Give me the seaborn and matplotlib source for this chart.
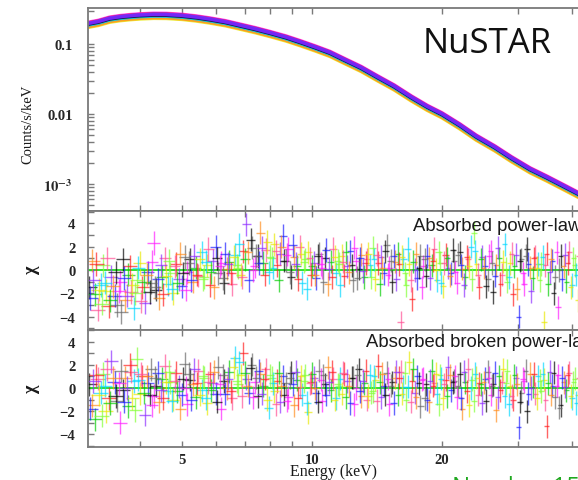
import numpy as np
import pandas as pd
import matplotlib
matplotlib.use("Agg")
import matplotlib.pyplot as plt
import seaborn as sns
from matplotlib.ticker import FixedLocator, FixedFormatter, NullFormatter, LogLocator, MultipleLocator

# ---------------- data ----------------
# spectrum (top panel): energy grid (keV) and count-rate shape (counts/s/keV)
E_SPEC = [3.0, 3.2, 3.4, 3.6, 3.8, 4.0, 4.3, 4.6, 5.0, 5.4, 5.8, 6.3, 6.8, 7.4, 8.0,
          8.7, 9.4, 10.2, 11.0, 12.0, 13.0, 14.2, 15.5, 17.0, 18.5, 20.0, 22.0, 24.0,
          26.5, 29.0, 32.0, 35.0, 38.5, 42.0, 46.0]
MODEL_COUNTS = [0.190, 0.205, 0.228, 0.240, 0.248, 0.254, 0.259, 0.258, 0.250, 0.237,
                0.222, 0.203, 0.182, 0.161, 0.142, 0.123, 0.105, 0.088, 0.074, 0.057,
                0.045, 0.033, 0.0245, 0.0170, 0.0125, 0.0098, 0.0068, 0.0047, 0.0033,
                0.0023, 0.00160, 0.00122, 0.00090, 0.00068, 0.00050]
SERIES = ["yellow", "orange", "gray", "green", "cyan", "magenta", "red", "pink",
          "black", "blue", "purple"]
SERIES_NORM = [0.90, 0.92, 0.98, 1.00, 0.97, 1.06, 1.04, 1.01, 1.00, 1.02, 1.03]

# residuals (chi) for the two fits; two interleaved groups of energy bins (keV)
E_BIN_A = [
    3.05, 3.10, 3.14, 3.19, 3.24, 3.28, 3.33, 3.38, 3.43, 3.49,
    3.54, 3.59, 3.65, 3.70, 3.76, 3.81, 3.87, 3.93, 3.99, 4.05,
    4.11, 4.17, 4.24, 4.30, 4.36, 4.43, 4.50, 4.56, 4.63, 4.70,
    4.77, 4.85, 4.92, 4.99, 5.07, 5.14, 5.22, 5.30, 5.38, 5.46,
    5.55, 5.63, 5.72, 5.80, 5.89, 5.98, 6.07, 6.16, 6.25, 6.35,
    6.44, 6.54, 6.64, 6.74, 6.84, 6.94, 7.05, 7.15, 7.26, 7.37,
    7.48, 7.59, 7.71, 7.82, 7.94, 8.06, 8.18, 8.31, 8.43, 8.56,
    8.69, 8.82, 8.95, 9.09, 9.22, 9.36, 9.50, 9.65, 9.79, 9.94,
    10.09, 10.24, 10.40, 10.55, 10.71, 10.87, 11.04, 11.20, 11.37, 11.54,
    11.72, 11.89, 12.07, 12.26, 12.44, 12.63, 12.82, 13.01, 13.21, 13.41,
    13.61, 13.81, 14.02, 14.23, 14.45, 14.67, 14.89, 15.11, 15.34, 15.57,
    15.81, 16.04, 16.29, 16.53, 16.78, 17.04, 17.29, 17.55, 17.82, 18.09,
    18.36, 18.64, 18.92, 19.20, 19.49, 19.79, 20.09, 20.39, 20.70, 21.01,
    21.33, 21.65, 21.97, 22.30, 22.64, 22.98, 23.33, 23.68, 24.04, 24.40,
    24.77, 25.14, 25.52, 25.91, 26.30, 26.69, 27.10, 27.51, 27.92, 28.34,
    28.77, 29.20, 29.64, 30.09, 30.54, 31.00, 31.47, 31.95, 32.43, 32.92,
    33.41, 33.92, 34.43, 34.95, 35.48, 36.01, 36.56, 37.11, 37.67, 38.24,
    38.81, 39.40, 39.99, 40.60, 41.21, 41.83, 42.46, 43.10, 43.75, 44.40,
]
E_BIN_B = [
    3.07, 3.12, 3.17, 3.21, 3.26, 3.31, 3.36, 3.41, 3.46, 3.51,
    3.57, 3.62, 3.68, 3.73, 3.79, 3.84, 3.90, 3.96, 4.02, 4.08,
    4.14, 4.21, 4.27, 4.33, 4.40, 4.47, 4.53, 4.60, 4.67, 4.74,
    4.81, 4.88, 4.96, 5.03, 5.11, 5.18, 5.26, 5.34, 5.42, 5.50,
    5.59, 5.67, 5.76, 5.85, 5.94, 6.03, 6.12, 6.21, 6.30, 6.40,
    6.49, 6.59, 6.69, 6.79, 6.89, 7.00, 7.10, 7.21, 7.32, 7.43,
    7.54, 7.65, 7.77, 7.88, 8.00, 8.12, 8.25, 8.37, 8.50, 8.63,
    8.76, 8.89, 9.02, 9.16, 9.29, 9.43, 9.58, 9.72, 9.87, 10.02,
    10.17, 10.32, 10.48, 10.63, 10.79, 10.96, 11.12, 11.29, 11.46, 11.63,
    11.81, 11.98, 12.17, 12.35, 12.54, 12.73, 12.92, 13.11, 13.31, 13.51,
    13.71, 13.92, 14.13, 14.34, 14.56, 14.78, 15.00, 15.23, 15.46, 15.69,
    15.93, 16.17, 16.41, 16.66, 16.91, 17.17, 17.42, 17.69, 17.96, 18.23,
    18.50, 18.78, 19.06, 19.35, 19.64, 19.94, 20.24, 20.55, 20.86, 21.17,
    21.49, 21.81, 22.14, 22.47, 22.81, 23.16, 23.51, 23.86, 24.22, 24.59,
    24.96, 25.33, 25.72, 26.11, 26.50, 26.90, 27.31, 27.72, 28.13, 28.56,
    28.99, 29.42, 29.87, 30.32, 30.77, 31.24, 31.71, 32.19, 32.68, 33.17,
    33.67, 34.18, 34.69, 35.22, 35.75, 36.29, 36.84, 37.39, 37.96, 38.53,
    39.11, 39.70, 40.30, 40.91, 41.52, 42.15, 42.78, 43.43, 44.08, 44.75,
]
# absorbed power-law residuals
CHI_PL_A = [
    -1.5, 0.8, -2.1, -3.4, -1.3, 0.4, -1.8, -3.1, -0.6, -2.2,
    -3.0, -1.0, 0.9, -2.6, -0.4, -1.9, -3.3, -0.9, 0.6, -1.5,
    -2.8, -0.2, -1.1, 2.3, -1.7, -2.4, -0.6, 1.0, -1.2, -0.3,
    -2.0, 0.5, -0.8, -1.4, 1.1, -0.2, 0.9, -1.0, 0.2, -0.5,
    1.5, -0.6, 0.4, -1.3, 0.8, 2.0, -0.3, 0.6, -1.1, 0.1,
    0.7, -1.2, 1.3, 0.2, -0.4, 1.6, 3.9, -0.9, 1.9, 0.3,
    1.2, 3.2, 0.6, 1.7, -0.2, 1.0, 2.2, 0.4, 1.4, 2.9,
    0.8, 1.8, -0.6, 1.1, 0.3, 2.0, -1.1, 0.9, 1.5, -0.4,
    0.6, -0.7, 1.4, 0.2, 1.0, -1.2, 0.7, 1.8, -0.3, 0.5,
    1.2, -0.5, 0.3, 1.6, -0.9, 0.8, 0.1, 1.3, -0.6, 0.9,
    0.4, 1.9, -0.8, 0.6, 1.1, -0.3, 2.1, 0.2, -1.0, 0.7,
    1.4, -4.5, 0.9, -1.3, 0.5, -2.5, 0.0, -0.7, 1.2, 0.3,
    -0.5, 1.0, 0.4, 1.8, -0.9, 0.6, -1.4, 1.3, 0.2, -0.3,
    0.8, -1.1, 1.5, 0.1, -0.6, 0.9, 2.0, 3.2, 0.5, -1.5,
    1.1, 0.3, -0.8, 1.6, -1.9, 0.4, 1.0, -0.4, 2.2, -1.0,
    0.6, -2.1, 1.3, -4.0, 0.9, -1.2, 1.8, 0.2, -0.7, 1.1,
    0.5, 0.5, -4.5, 1.4, -0.2, 0.8, -0.6, -3.2, 1.2, 0.3,
    -1.0, 1.5, -1.3, 0.4, -2.6, 1.0, -0.5, 1.7, -1.8, 0.6,
]
CHI_PL_B = [
    -2.4, -0.9, 0.5, -1.7, -2.9, -1.1, 1.0, -2.6, -1.4, -0.2,
    -1.8, -3.6, -0.7, -2.2, 0.3, -1.3, -2.0, 0.2, -2.7, -1.0,
    -0.4, -1.9, 0.7, -1.5, -0.8, 0.4, -2.1, -0.5, 0.8, -1.6,
    0.3, -1.1, 1.4, -0.3, -1.7, 0.6, -0.9, 1.2, -0.4, 0.9,
    -0.8, 0.7, 1.8, -0.2, -1.5, 1.0, 0.3, -0.7, 1.4, 0.5,
    -0.3, 1.1, 0.4, 2.2, -0.6, 0.9, 1.5, 2.6, 0.0, 1.2,
    0.6, 1.9, -0.4, 2.4, 1.1, 0.2, 1.6, -0.9, 2.0, 0.8,
    1.3, -0.2, 2.1, 0.5, -0.8, 1.4, 0.7, -1.6, 1.0, 0.3,
    -0.4, 1.2, 0.5, -1.0, 1.7, 0.1, -0.6, 1.1, 0.8, -1.3,
    0.7, 1.5, -0.2, 0.4, 1.9, -0.7, 1.0, -0.1, 0.6, 1.4,
    -0.6, 0.9, 1.3, -1.2, 0.2, 1.6, -0.4, 0.8, 1.2, -0.8,
    0.5, 1.1, -0.3, 1.8, -0.9, 0.7, 1.4, 0.2, -1.5, 0.9,
    1.2, -0.7, 0.8, 0.0, 1.5, -1.1, 0.6, 1.0, -0.5, 1.7,
    -0.2, 1.3, 0.4, -1.3, 1.1, 0.3, -0.8, 1.6, -0.4, 0.9,
    0.2, -1.4, 1.2, 0.6, -0.5, 1.9, -1.2, 0.7, 0.1, -0.6,
    1.4, 0.3, -1.6, 0.8, -0.3, 1.2, 0.5, -1.8, 1.0, 0.2,
    -0.9, 1.1, 0.4, -1.2, 0.9, -2.0, 1.5, 0.0, -0.8, 1.3,
    0.6, -1.5, 1.0, -0.4, 1.2, -2.2, 0.3, 0.9, -1.1, 0.5,
]
# absorbed broken power-law residuals
CHI_BPL_A = [
    0.3, -1.5, -2.7, 0.8, -0.4, 1.2, -2.0, -0.9, 2.3, 0.5,
    -1.1, -3.0, -0.2, 0.9, -1.6, 1.4, 0.6, 2.5, -0.5, 1.0,
    -2.3, 0.4, 1.6, -0.7, 0.2, -1.2, 0.8, 1.9, -0.3, 0.5,
    -1.0, 1.3, 0.1, -0.6, 2.1, -1.4, 0.7, 0.3, -0.8, 1.5,
    -0.2, 0.9, -1.3, 1.2, 0.4, -0.5, 1.8, -1.8, 0.6, 0.0,
    1.4, -0.9, 2.6, 0.3, 1.1, 3.0, 0.8, -0.4, 2.0, 0.5,
    -0.7, 1.2, 0.2, 1.6, -1.7, 0.9, -0.3, 0.6, -1.2, 1.0,
    0.4, -0.8, 1.3, -1.5, 0.7, 0.1, -0.6, 1.1, -2.1, 0.5,
    0.9, -0.4, 1.5, -1.1, 0.3, 1.8, -0.2, 0.8, -0.9, 0.2,
    -0.5, 1.2, 0.6, -1.3, 0.9, 0.0, 1.6, -0.7, 0.4, -1.0,
    1.1, -0.3, 0.7, 1.9, -0.8, 0.2, 1.3, -1.4, 0.5, 0.9,
    -0.6, 1.4, 0.1, -1.0, 2.2, 0.6, -0.4, 1.0, -1.6, 0.8,
    0.3, -1.2, 1.5, 0.4, -0.5, 1.1, -0.9, 0.7, 1.8, -0.2,
    0.6, -0.8, 1.2, -1.8, 0.5, 1.6, 0.0, -1.1, 0.9, 0.4,
    -1.3, 0.8, 1.4, -0.6, 0.3, -1.9, 1.0, 0.5, -0.7, 1.5,
    0.2, -1.0, 0.9, -3.4, -0.4, 0.6, -2.0, 1.2, 0.1, -0.5,
    1.0, -0.3, 0.7, -3.3, 1.4, 0.2, -0.8, 1.1, -1.5, 0.5,
    -0.2, 1.3, -0.9, 0.8, -0.6, 0.4, 1.2, -0.6, 0.9, -1.1,
]
CHI_BPL_B = [
    -1.8, 0.6, 1.1, -0.6, -2.4, 0.2, 1.6, -1.3, 0.9, -0.7,
    0.4, 1.5, -1.2, 0.0, 2.0, -0.9, -1.9, 0.7, 1.2, -0.4,
    1.0, -0.6, -1.5, 0.9, 1.3, -0.2, -0.9, 0.5, 1.4, -1.1,
    0.6, -0.3, -1.8, 0.8, 0.0, 1.2, -1.0, 1.6, 0.4, -0.6,
    1.0, -0.9, 0.5, -0.2, 1.4, -1.2, 0.3, 1.1, -0.5, 0.8,
    -0.3, 1.8, 0.6, 2.2, -0.7, 1.3, 0.2, 1.7, -0.8, 0.9,
    1.5, -0.5, 0.8, -1.0, 1.1, 0.4, -1.4, 1.3, 0.2, -0.6,
    -1.1, 0.9, 0.3, 1.4, -0.9, 1.0, 0.6, -1.3, 0.4, 1.2,
    0.0, -1.2, 0.7, 1.1, -0.6, 0.5, 1.4, -1.0, 0.3, 0.8,
    1.3, -0.8, 0.2, 0.9, -1.4, 1.1, -0.3, 0.6, 1.5, -0.7,
    -0.4, 1.0, -1.1, 0.5, 1.2, -0.6, 0.8, 0.2, -1.3, 1.4,
    0.9, -0.5, 1.3, 0.1, -1.2, 1.6, -0.8, 0.4, 0.7, -0.9,
    -1.0, 0.6, 0.2, 1.2, -1.4, 0.8, 0.3, -0.7, 1.1, 0.5,
    1.0, 0.2, -0.9, 1.4, -0.3, -1.5, 0.7, 1.2, -0.6, 0.3,
    0.5, -1.1, 0.9, 0.2, 1.3, -0.8, -0.2, 1.6, 0.4, -1.4,
    -0.7, 1.1, 0.3, -1.2, 0.8, 1.5, -0.5, 0.0, 1.2, -0.9,
    0.6, 1.2, -1.0, 0.4, -0.6, 1.3, 0.2, -1.7, 0.9, 0.1,
    1.1, -0.7, 0.5, -1.3, 0.9, 0.2, -0.9, 1.4, -0.4, 0.7,
]
assert len(E_BIN_A) == len(CHI_PL_A) == len(CHI_BPL_A)
assert len(E_BIN_B) == len(CHI_PL_B) == len(CHI_BPL_B)

X_MAJOR = [5, 10, 20, 50]
X_MAJOR_LABELS = ["5", "10", "20", ""]
X_MINOR = [3, 4, 6, 7, 8, 9, 30, 40, 60, 70]
Y_TOP_TICKS = [0.1, 0.01, 0.001]
Y_TOP_LABELS = ["0.1", "0.01", "$\\mathbf{10^{-3}}$"]
CHI_TICKS = [-4, -2, 0, 2, 4]
CHI_LABELS = ["\u22124", "\u22122", "0", "2", "4"]

# ---------------- style ----------------
COLORS = {"black": "#000000", "red": "#ff1a1a", "green": "#00cc00", "blue": "#1a1aff",
          "cyan": "#00d8ff", "magenta": "#ff1aff", "yellow": "#e8e800", "orange": "#ff8c1a",
          "purple": "#8c2bff", "pink": "#ff4d94", "gray": "#666666", "lime": "#80ff33"}
RES_ORDER = ["black", "red", "green", "blue", "cyan", "magenta", "yellow", "orange",
             "purple", "pink", "gray", "lime"]

sns.set_theme(style="ticks")
plt.rcParams["font.family"] = ["Liberation Serif", "DejaVu Serif"]
plt.rcParams["mathtext.fontset"] = "stix"

W, H = 578, 481
fig = plt.figure(figsize=(W / 100, H / 100), dpi=100)

def fx(px):
    return px / W

def fy(py):
    return 1 - py / H

left = fx(88)
xlo, xhi = 3.03, 79.0
width = fx(431.9 * np.log10(xhi / xlo))

ax0 = fig.add_axes([left, fy(212), width, (212 - 9) / H])
ax1 = fig.add_axes([left, fy(330.5), width, (330.5 - 212) / H])
ax2 = fig.add_axes([left, fy(448), width, (448 - 330.5) / H])

SPINE = "#7a7a7a"
for ax in (ax0, ax1, ax2):
    ax.set_xscale("log")
    ax.set_xlim(xlo, xhi)
    for s in ax.spines.values():
        s.set_color(SPINE)
        s.set_linewidth(1.3)
    ax.xaxis.set_major_locator(FixedLocator(X_MAJOR))
    ax.xaxis.set_minor_locator(FixedLocator(X_MINOR))
    ax.xaxis.set_minor_formatter(NullFormatter())
    ax.tick_params(axis="both", which="both", direction="in", top=True, right=True,
                   color=SPINE, length=4, width=1.0, labelsize=10.5, labelcolor="#262626")

# top spectrum
rows = []
for name, norm in zip(SERIES, SERIES_NORM):
    for e, c in zip(E_SPEC, MODEL_COUNTS):
        rows.append({"E": e, "counts": c * norm, "series": name})
spec = pd.DataFrame(rows)
sns.lineplot(data=spec, x="E", y="counts", hue="series", hue_order=SERIES,
             palette={k: COLORS[k] for k in SERIES}, lw=2.6, alpha=0.8,
             estimator=None, legend=False, ax=ax0)
ax0.set_yscale("log")
ax0.set_ylim(4.1e-4, 0.327)
ax0.set_xlim(xlo, xhi)
ax0.yaxis.set_major_locator(FixedLocator(Y_TOP_TICKS))
ax0.yaxis.set_major_formatter(FixedFormatter(Y_TOP_LABELS))
ax0.yaxis.set_minor_locator(LogLocator(base=10, subs=np.arange(2, 10)))
ax0.yaxis.set_minor_formatter(NullFormatter())
ax0.tick_params(axis="x", labelbottom=False)
ax0.tick_params(axis="y", pad=11)
ax0.set_xlabel("")
ax0.set_ylabel("")

# residual panels
groups = [(np.array(E_BIN_A), CHI_PL_A, CHI_BPL_A, 7, 0),
          (np.array(E_BIN_B), CHI_PL_B, CHI_BPL_B, 5, 3)]
for ax in (ax1, ax2):
    ax.axhline(0, color="#22dd22", lw=1.3, zorder=1)
for E, chi_pl, chi_bpl, step, off in groups:
    xerr = 0.09 + 0.012 * E
    cidx = (np.arange(len(E)) * step + off) % len(RES_ORDER)
    for ax, chi in ((ax1, np.array(chi_pl)), (ax2, np.array(chi_bpl))):
        for k, cname in enumerate(RES_ORDER):
            m = cidx == k
            ax.errorbar(E[m], chi[m], yerr=1.0, xerr=xerr[m], fmt="none",
                        ecolor=COLORS[cname], elinewidth=1.0, alpha=0.68,
                        capsize=0, zorder=2)
for ax in (ax1, ax2):
    ax.set_ylim(-5.1, 5.05)
    ax.yaxis.set_major_locator(FixedLocator(CHI_TICKS))
    ax.yaxis.set_major_formatter(FixedFormatter(CHI_LABELS))
    ax.yaxis.set_minor_locator(MultipleLocator(1))
    ax.tick_params(axis="y", pad=9)
ax1.tick_params(axis="x", labelbottom=False)
ax2.xaxis.set_major_formatter(FixedFormatter(X_MAJOR_LABELS))
ax2.tick_params(axis="x", pad=4)

for ax in (ax0, ax1, ax2):
    for lab in ax.get_xticklabels() + ax.get_yticklabels():
        lab.set_fontweight("bold")

# labels
fig.text(fx(28), fy(124), "Counts/s/keV", rotation=90, ha="center", va="center",
         fontsize=10.5, color="#1a1a1a")
fig.text(fx(31), fy(270), "\u03c7", rotation=90, ha="center", va="center",
         fontsize=13, color="#1a1a1a", weight="bold")
fig.text(fx(31), fy(389), "\u03c7", rotation=90, ha="center", va="center",
         fontsize=13, color="#1a1a1a", weight="bold")
fig.text(fx(334), fy(472), "Energy (keV)", ha="center", va="center",
         fontsize=11.5, color="#1a1a1a")

fig.text(fx(487), fy(53), "NuSTAR", ha="center", va="baseline",
         fontsize=25, family="Open Sans", color="#111111")
fig.text(fx(413), fy(230.7), "Absorbed power-law", ha="left", va="baseline",
         fontsize=13.3, family="Liberation Sans", color="#1a1a1a")
fig.text(fx(366), fy(346.7), "Absorbed broken power-law", ha="left", va="baseline",
         fontsize=13.3, family="Liberation Sans", color="#1a1a1a")
fig.text(fx(452), fy(494.5), "Number 15", ha="left", va="baseline",
         fontsize=17.5, family="Open Sans", color="#1fa81f")

fig.savefig("out.png", dpi=100)
